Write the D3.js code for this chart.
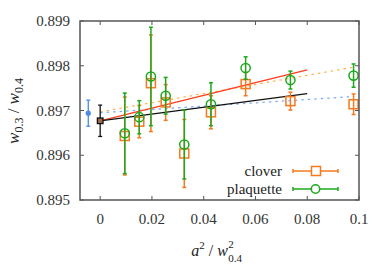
<!DOCTYPE html>
<html>
<head>
<meta charset="utf-8">
<script src="https://cdn.jsdelivr.net/npm/d3@7"></script>
<style>
  body { margin: 0; background: #fff; }
</style>
</head>
<body>
<div id="chart"></div>
<script>
// lattice spacing a^2 / w0.4^2
const xVals = [0.0095, 0.0151, 0.0196, 0.0253, 0.0325, 0.0428, 0.0562, 0.0735, 0.0979];
const cloverVals = [0.89643, 0.89675, 0.89761, 0.89718, 0.89604, 0.89696, 0.89759, 0.89721, 0.89714];
const cloverErr  = [0.00087, 0.00036, 0.00108, 0.0004, 0.00076, 0.00037, 0.00026, 0.0002, 0.00023];
const plaqVals = [0.89649, 0.89685, 0.89776, 0.89733, 0.89624, 0.89714, 0.89795, 0.89768, 0.89778];
const plaqErr  = [0.0009, 0.00037, 0.0011, 0.00041, 0.00077, 0.00048, 0.00025, 0.0002, 0.00026];

// continuum values
const contX = [0, -0.0046];
const contVals = [0.89677, 0.89694];
const contErr = [0.00035, 0.00029];

// fits: [x0, x1, intercept, slope]
const fitNames = ["red", "black", "orangeDot", "blueDot"];
const fitX0 = [0, 0, 0, 0];
const fitX1 = [0.08, 0.08, 0.0979, 0.0979];
const fitB = [0.89677, 0.89677, 0.89697, 0.89695];
const fitM = [0.01425, 0.0076, 0.0102, 0.0037];

const xTicks = [0, 0.02, 0.04, 0.06, 0.08, 0.1];
const yTicks = [0.895, 0.896, 0.897, 0.898, 0.899];

const W = 390, H = 273;
const L = 80, R = 359, T = 21, B = 200;

const orange = "#f47a1f", green = "#1ea81e", blue = "#4a8ae8";
const serif = "'Liberation Serif', 'Times New Roman', Times, 'DejaVu Serif', serif";

const svg = d3.select("#chart").append("svg")
  .attr("width", W).attr("height", H)
  .attr("font-family", serif);

const x = d3.scaleLinear().domain([-0.0078, 0.1]).range([L, R]);
const y = d3.scaleLinear().domain([0.895, 0.899]).range([B, T]);

svg.append("clipPath").attr("id", "clip")
  .append("rect").attr("x", L).attr("y", T).attr("width", R - L).attr("height", B - T);

// ticks on all four sides, pointing inwards
const tl = 4;
const tg = svg.append("g").attr("stroke", "#555").attr("stroke-width", 1);
xTicks.forEach(t => {
  tg.append("line").attr("x1", x(t)).attr("x2", x(t)).attr("y1", B).attr("y2", B - tl);
  tg.append("line").attr("x1", x(t)).attr("x2", x(t)).attr("y1", T).attr("y2", T + tl);
});
yTicks.forEach(t => {
  tg.append("line").attr("x1", L).attr("x2", L + tl).attr("y1", y(t)).attr("y2", y(t));
  tg.append("line").attr("x1", R).attr("x2", R - tl).attr("y1", y(t)).attr("y2", y(t));
});

// tick labels
svg.append("g").selectAll("text").data(xTicks).join("text")
  .attr("x", d => x(d)).attr("y", 224)
  .attr("text-anchor", "middle").attr("font-size", 15).attr("fill", "#333")
  .text(d => d === 0 ? "0" : String(+d.toFixed(2)));
svg.append("g").selectAll("text").data(yTicks).join("text")
  .attr("x", 70).attr("y", d => y(d) + 5)
  .attr("text-anchor", "end").attr("font-size", 15).attr("fill", "#333")
  .text(d => d3.format(".3f")(d));

// fit lines
const plot = svg.append("g").attr("clip-path", "url(#clip)");
const fitStyle = {
  red: { c: "#ff3b1a", dash: null, w: 1.3 },
  black: { c: "#111", dash: null, w: 1.3 },
  orangeDot: { c: "#fbb650", dash: "2.5,4", w: 1.3 },
  blueDot: { c: "#80acf5", dash: "2.5,4", w: 1.3 }
};
[2, 3, 0, 1].forEach(i => {
  const s = fitStyle[fitNames[i]];
  plot.append("line")
    .attr("x1", x(fitX0[i])).attr("y1", y(fitB[i] + fitM[i] * fitX0[i]))
    .attr("x2", x(fitX1[i])).attr("y2", y(fitB[i] + fitM[i] * fitX1[i]))
    .attr("stroke", s.c).attr("stroke-width", s.w)
    .attr("stroke-dasharray", s.dash);
});

function errBars(g, xs, vs, es, col, w) {
  xs.forEach((xv, i) => {
    const cx = x(xv), y1 = y(vs[i] + es[i]), y2 = y(vs[i] - es[i]);
    g.append("line").attr("x1", cx).attr("x2", cx).attr("y1", y1).attr("y2", y2)
      .attr("stroke", col).attr("stroke-width", w);
    [y1, y2].forEach(yy => g.append("line")
      .attr("x1", cx - 2).attr("x2", cx + 2).attr("y1", yy).attr("y2", yy)
      .attr("stroke", col).attr("stroke-width", w));
  });
}

const pts = svg.append("g");
// clover
errBars(pts, xVals, cloverVals, cloverErr, orange, 1.5);
pts.selectAll("rect.clover").data(xVals).join("rect").attr("class", "clover")
  .attr("x", (d) => x(d) - 4.5).attr("y", (d, i) => y(cloverVals[i]) - 4.5)
  .attr("width", 9).attr("height", 9)
  .attr("fill", "none").attr("stroke", orange).attr("stroke-width", 1.5);
// plaquette
errBars(pts, xVals, plaqVals, plaqErr, green, 1.5);
pts.selectAll("circle.plaq").data(xVals).join("circle").attr("class", "plaq")
  .attr("cx", d => x(d)).attr("cy", (d, i) => y(plaqVals[i]))
  .attr("r", 4.6)
  .attr("fill", "none").attr("stroke", green).attr("stroke-width", 1.5);

// continuum points
errBars(pts, [contX[0]], [contVals[0]], [contErr[0]], "#111", 1.3);
pts.append("rect").attr("x", x(contX[0]) - 2.8).attr("y", y(contVals[0]) - 2.8)
  .attr("width", 5.6).attr("height", 5.6)
  .attr("fill", "#a06a50").attr("stroke", "#111").attr("stroke-width", 1.3);
errBars(pts, [contX[1]], [contVals[1]], [contErr[1]], blue, 1.3);
pts.append("circle").attr("cx", x(contX[1])).attr("cy", y(contVals[1]))
  .attr("r", 2.6).attr("fill", blue);

// frame
svg.append("rect").attr("x", L).attr("y", T).attr("width", R - L).attr("height", B - T)
  .attr("fill", "none").attr("stroke", "#555").attr("stroke-width", 1.5);

// legend
const leg = svg.append("g");
const legNames = ["clover", "plaquette"];
const legCols = [orange, green];
legNames.forEach((n, i) => {
  const ly = 171 + i * 18;
  leg.append("text").attr("x", 282).attr("y", ly + 5).attr("text-anchor", "end")
    .attr("font-size", 15).attr("fill", "#222").text(n);
  leg.append("line").attr("x1", 293).attr("x2", 338).attr("y1", ly).attr("y2", ly)
    .attr("stroke", legCols[i]).attr("stroke-width", 1.5);
  [293, 338].forEach(xx => leg.append("line").attr("x1", xx).attr("x2", xx)
    .attr("y1", ly - 2).attr("y2", ly + 2).attr("stroke", legCols[i]).attr("stroke-width", 1.5));
  if (i === 0) {
    leg.append("rect").attr("x", 311.5).attr("y", ly - 4.5).attr("width", 9).attr("height", 9)
      .attr("fill", "#fff").attr("stroke", orange).attr("stroke-width", 1.5);
  } else {
    leg.append("circle").attr("cx", 315.5).attr("cy", ly).attr("r", 4.2)
      .attr("fill", "#fff").attr("stroke", green).attr("stroke-width", 1.5);
  }
});

// x axis title: main part, then stacked super/subscript as separate texts
const xlg = svg.append("g").attr("fill", "#222");
const xl = xlg.append("text").attr("y", 256).attr("font-size", 16);
xl.append("tspan").attr("font-style", "italic").text("a");
xl.append("tspan").attr("font-size", 11).attr("dy", -7).text("2");
xl.append("tspan").attr("dy", 7).text(" / ");
xl.append("tspan").attr("font-style", "italic").text("w");
const mainW = xl.node().getComputedTextLength();
const subW = 17;
const x0 = 218 - (mainW + subW) / 2;
xl.attr("x", x0);
xlg.append("text").attr("x", x0 + mainW + 0.5).attr("y", 248).attr("font-size", 11).text("2");
xlg.append("text").attr("x", x0 + mainW + 0.5).attr("y", 262).attr("font-size", 11).text("0.4");

const yl = svg.append("text").attr("transform", "translate(19,111) rotate(-90)")
  .attr("text-anchor", "middle").attr("font-size", 17).attr("fill", "#222");
yl.append("tspan").attr("font-style", "italic").text("w");
yl.append("tspan").attr("font-size", 12).attr("dy", 4).text("0.3");
yl.append("tspan").attr("dy", -4).text(" / ");
yl.append("tspan").attr("font-style", "italic").text("w");
yl.append("tspan").attr("font-size", 12).attr("dy", 4).text("0.4");
</script>
</body>
</html>
